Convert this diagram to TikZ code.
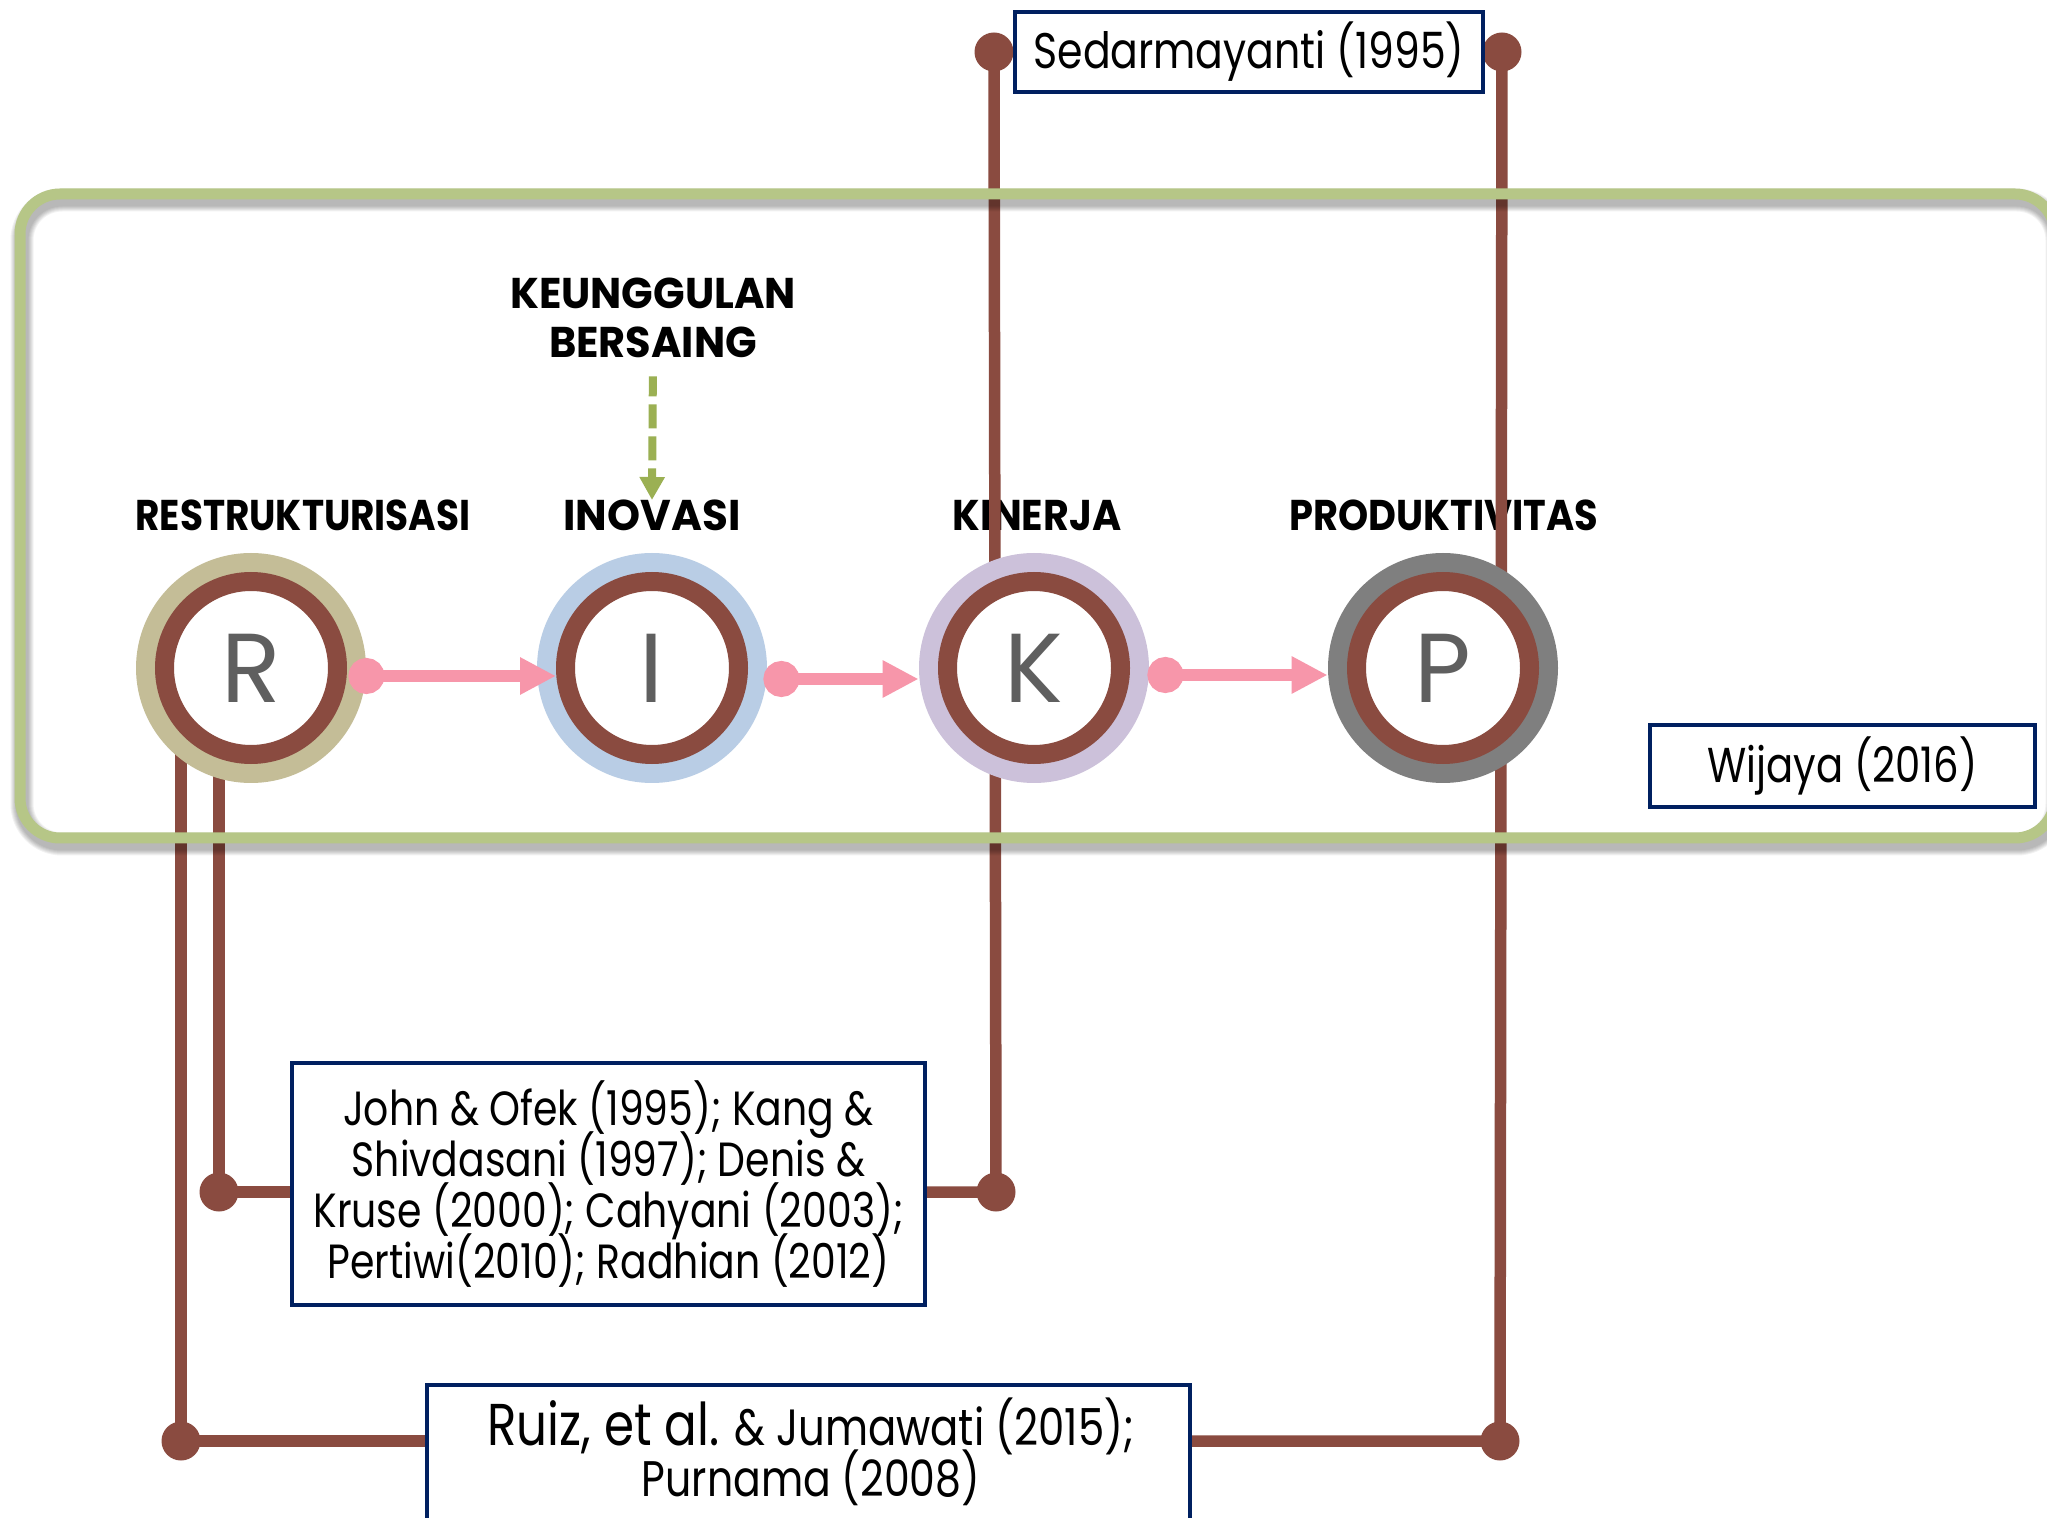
\documentclass[tikz,border=0pt]{standalone}
\usepackage{fontspec}
\setmainfont{Poppins}[FakeStretch=0.82]
\newfontfamily\headfont{Poppins}[FakeStretch=0.85]
\newfontfamily\letterfont{Poppins}
\usetikzlibrary{arrows.meta}

\definecolor{ringbrown}{RGB}{138,75,64}
\definecolor{tanring}{RGB}{196,189,151}
\definecolor{bluering}{RGB}{185,205,229}
\definecolor{lilacring}{RGB}{204,193,218}
\definecolor{greyring}{RGB}{127,127,127}
\definecolor{letgrey}{RGB}{95,95,95}
\definecolor{arrowpink}{RGB}{247,150,170}
\definecolor{framegreen}{RGB}{182,198,135}
\definecolor{olivegreen}{RGB}{155,176,83}
\definecolor{boxnavy}{RGB}{0,32,96}

\pgfdeclarelayer{texts}
\pgfdeclarelayer{links}
\pgfdeclarelayer{frame}
\pgfsetlayers{texts,links,frame,main}

% heading text widened horizontally by a factor
\newcommand{\widen}[2]{\scalebox{#1}[1]{#2}}
% fixed line pitch, whatever the glyph extents
\newcommand{\tightlines}{\lineskiplimit=-30pt\lineskip=0pt}

\begin{document}
\begin{tikzpicture}[x=0.5pt,y=-0.5pt,
  heading/.style={font=\headfont\bfseries\fontsize{21.5}{24.5}\selectfont, inner sep=0pt, anchor=base},
  outerc/.style={circle, minimum size=115pt, inner sep=0pt},
  ringc/.style={circle, draw=ringbrown, line width=9.5pt, fill=white, minimum size=86.5pt,
    inner sep=0pt, font=\letterfont\fontsize{49}{49}\selectfont, text=letgrey},
  refbox/.style={draw=boxnavy, line width=2pt, fill=white, inner sep=0pt, align=center},
  flow/.style={draw=arrowpink, line width=6pt,
    {Circle[length=18pt,width=18pt]}-{Triangle[length=18pt,width=17.5pt]}},
  link/.style={draw=ringbrown, line width=5.75pt},
  hint/.style={draw=olivegreen, line width=4pt, dash pattern=on 12pt off 4pt, dash phase=2pt,
    -{Triangle[length=11.5pt,width=12pt]}},
]
\useasboundingbox (0,0) rectangle (2047,1518);

% ---------- headings ----------
\begin{pgfonlayer}{texts}
  \fill[white] (0,0) rectangle (2047,1518);
  \node[heading] (hR) at (303,531) {\widen{1.024}{RESTRUKTURISASI}};
  \node[heading] (hI) at (652,531) {\widen{1.15}{INOVASI}};
  \node[heading] (hK) at (1037,531) {\widen{1.085}{KINERJA}};
  \node[heading] (hP) at (1444,531) {\widen{1.05}{PRODUKTIVITAS}};
  \node[heading, anchor=center, align=center] (hKB) at (653,318)
    {\widen{1.135}{KEUNGGULAN}\\\widen{1.135}{BERSAING}};
\end{pgfonlayer}

% ---------- framing panel with soft shadow ----------
\begin{pgfonlayer}{frame}
  \foreach \w in {6.5,7.5,8.5,9.5,10.5,11.5}
    \draw[black, opacity=0.05, line width=\w pt, rounded corners=20pt] (22,200) rectangle (2057,844);
  \draw[framegreen, line width=5.5pt, rounded corners=20pt] (20,194) rectangle (2055,838);
\end{pgfonlayer}

% ---------- R - I - K - P chain ----------
\node[outerc, fill=tanring]   (Ro) at (251,668) {};
\node[ringc] (R) at (Ro) {R};
\node[outerc, fill=bluering]  (Io) at (652,668) {};
\node[ringc] (I) at (Io) {I};
\node[outerc, fill=lilacring] (Ko) at (1034,668) {};
\node[ringc] (K) at (Ko) {K};
\node[outerc, fill=greyring]  (Po) at (1443,668) {};
\node[ringc] (P) at (Po) {P};

\draw[flow] ([xshift=-9pt,yshift=-4pt]Ro.east) -- ([yshift=-4pt]I.west);
\draw[flow] ([xshift=-2pt,yshift=-5.5pt]Io.east) -- ([yshift=-5.5pt]Ko.west);
\draw[flow] ([xshift=-1pt,yshift=-3.5pt]Ko.east) -- ([yshift=-3.5pt]Po.west);

\draw[hint, shorten <=9pt] (hKB.south) -- (hI.north);

% ---------- reference boxes ----------
\node[refbox, minimum width=234pt, minimum height=40pt, font=\fontsize{25}{30}\selectfont]
  (sed) at (1249,52) {Sedarmayanti (1995)};
\node[refbox, minimum width=192.5pt, minimum height=41pt, font=\fontsize{24.5}{28}\selectfont]
  (wij) at (1842.5,766) {Wijaya (2016)};
\node[refbox, minimum width=316.5pt, minimum height=121pt, font=\fontsize{24}{25.5}\selectfont\tightlines]
  (john) at (608.5,1184) {John \& Ofek (1995); Kang \&\\Shivdasani (1997); Denis \&\\Kruse (2000); Cahyani (2003);\\Pertiwi(2010); Radhian (2012)};
\node[refbox, minimum width=381.5pt, minimum height=85pt, anchor=north] (ruiz) at (808.5,1383) {};
\node[align=center, inner sep=0pt, font=\fontsize{25}{25.5}\selectfont\tightlines] (ruizText) at (811,1452)
  {{\fontsize{29.5}{25.5}\selectfont Ruiz, et al.} \fontsize{25.5}{25.5}\selectfont\& Jumawati (2015);\\Purnama (2008)};

% ---------- brown connectors ----------
\coordinate (kTop) at ([xshift=-9.5pt]sed.west);
\coordinate (pTop) at ([xshift=8.5pt]sed.east);
\coordinate (kBot) at (996,1192);
\coordinate (pBot) at (1500,1441);
\coordinate (rA) at (219,668);
\coordinate (rABot) at (219,1192);
\coordinate (rB) at (181,668);
\coordinate (rBBot) at (181,1441);

\begin{pgfonlayer}{links}
  \draw[link] (kTop) -- (kBot) -- (kBot -| john.east);
  \draw[link] (pTop) -- (pBot) -- (pBot -| ruiz.east);
  \draw[link] (rA) -- (rABot) -- (rABot -| john.west);
  \draw[link] (rB) -- (rBBot) -- (rBBot -| ruiz.west);
  \foreach \c in {kTop,kBot,pTop,pBot,rABot,rBBot}
    \fill[ringbrown] (\c) circle[radius=9.75pt];
\end{pgfonlayer}
\end{tikzpicture}
\end{document}
